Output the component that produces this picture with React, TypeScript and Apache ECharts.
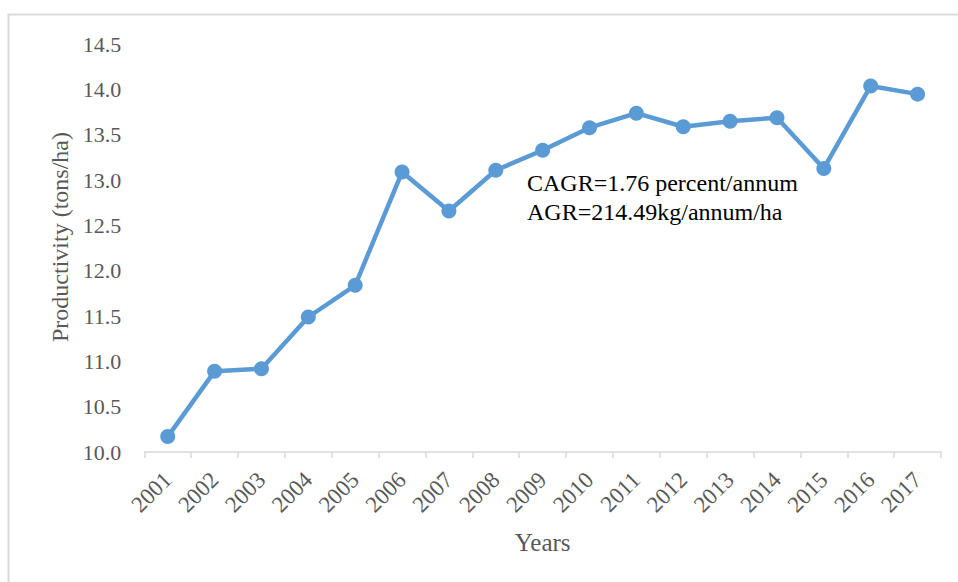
import React, { useEffect, useRef } from "react";
import * as echarts from "echarts";

const years = ["2001","2002","2003","2004","2005","2006","2007","2008","2009","2010","2011","2012","2013","2014","2015","2016","2017"];
const productivity = [10.17, 10.89, 10.92, 11.49, 11.84, 13.09, 12.66, 13.11, 13.33, 13.58, 13.74, 13.59, 13.65, 13.69, 13.13, 14.04, 13.95];
const annotationLines = ["CAGR=1.76 percent/annum", "AGR=214.49kg/annum/ha"];
const yTitle = "Productivity (tons/ha)";
const xTitle = "Years";

const FONT = "'Liberation Serif', 'Times New Roman', serif";

export default function App() {
  const ref = useRef<HTMLDivElement>(null);
  useEffect(() => {
    if (!ref.current) return;
    const chart = echarts.init(ref.current, undefined, { renderer: "svg" });
    chart.setOption({
      animation: false,
      backgroundColor: "#ffffff",
      grid: { left: 144.3, right: 17, top: 44.3, bottom: 130, containLabel: false },
      xAxis: {
        type: "category",
        data: years,
        boundaryGap: true,
        name: xTitle,
        nameLocation: "middle",
        nameGap: 78,
        nameTextStyle: { fontFamily: FONT, fontSize: 25, color: "#595959" },
        axisLine: { show: true, lineStyle: { color: "#D9D9D9", width: 1.5 } },
        axisTick: { show: true, length: 6, lineStyle: { color: "#D9D9D9", width: 1.5 } },
        axisLabel: { rotate: 45, margin: 24, fontFamily: FONT, fontSize: 23, color: "#595959", interval: 0 },
        splitLine: { show: false },
      },
      yAxis: {
        type: "value",
        min: 10,
        max: 14.5,
        interval: 0.5,
        axisLine: { show: false },
        axisTick: { show: false },
        splitLine: { show: false },
        axisLabel: {
          margin: 23,
          fontFamily: FONT,
          fontSize: 22,
          color: "#595959",
          formatter: (v: number) => v.toFixed(1),
        },
      },
      series: [
        {
          type: "line",
          data: productivity,
          symbol: "circle",
          symbolSize: 15,
          itemStyle: { color: "#5B9BD5" },
          lineStyle: { color: "#5B9BD5", width: 4.5 },
        },
      ],
      graphic: [
        {
          type: "rect",
          shape: { x: 8.5, y: 14.5, width: 1000, height: 700 },
          style: { fill: "none", stroke: "#D9D9D9", lineWidth: 2 },
          silent: true,
          z: -10,
        },
        {
          type: "text",
          x: 60,
          y: 237,
          rotation: Math.PI / 2,
          style: {
            text: yTitle,
            fontFamily: FONT,
            fontSize: 24,
            fill: "#595959",
            align: "center",
            verticalAlign: "middle",
          },
        },
        {
          type: "text",
          x: 527,
          y: 168,
          style: {
            text: annotationLines.join("\n"),
            fontFamily: FONT,
            fontSize: 24,
            lineHeight: 29,
            fill: "#000000",
            align: "left",
            verticalAlign: "top",
          },
        },
      ],
    });
    return () => chart.dispose();
  }, []);
  return (
    <div
      ref={ref}
      style={{ position: "fixed", left: 0, top: 0, width: 958, height: 582 }}
    />
  );
}
